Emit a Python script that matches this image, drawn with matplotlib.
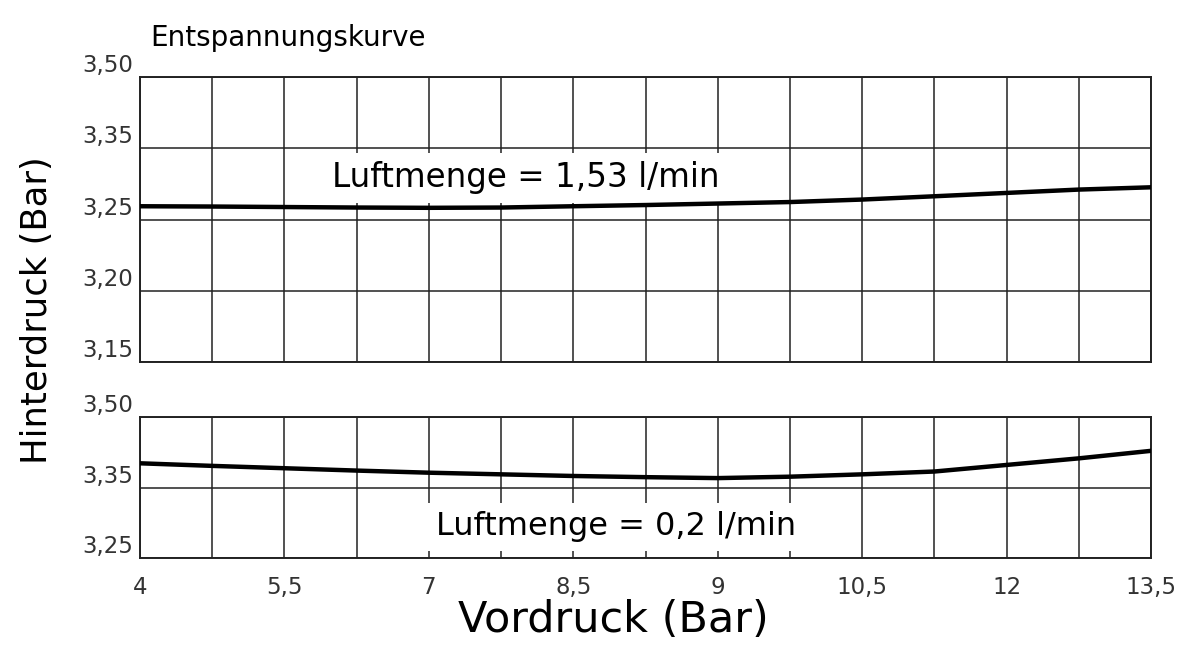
import numpy as np
import matplotlib
matplotlib.use("Agg")
import matplotlib.pyplot as plt

# Vordruck (Bar) an den Rasterlinien
vordruck = [4, 4.75, 5.5, 6.25, 7, 7.75, 8.5, 8.75, 9, 9.75, 10.5, 11.25, 12, 12.75, 13.5]
# Hinterdruck (Bar), Luftmenge 1,53 l/min
hinter_153 = [3.2686, 3.2682, 3.2675, 3.2668, 3.2664, 3.2668, 3.2686, 3.2703,
              3.2724, 3.2745, 3.2780, 3.2826, 3.2873, 3.2920, 3.2952]
# Hinterdruck (Bar), Luftmenge 0,2 l/min
hinter_02 = [3.4015, 3.396, 3.391, 3.386, 3.3815, 3.378, 3.3745, 3.372,
             3.370, 3.373, 3.378, 3.384, 3.398, 3.412, 3.428]

x_ticks = [4, 5.5, 7, 8.5, 9, 10.5, 12, 13.5]
x_labels = ["4", "5,5", "7", "8,5", "9", "10,5", "12", "13,5"]
y_ticks_oben = [3.15, 3.20, 3.25, 3.35, 3.50]
y_labels_oben = ["3,15", "3,20", "3,25", "3,35", "3,50"]
y_ticks_unten = [3.25, 3.35, 3.50]
y_labels_unten = ["3,25", "3,35", "3,50"]


def stueckweise(werte):
    pos = np.arange(len(werte), dtype=float)
    fwd = lambda v: np.interp(v, werte, pos)
    inv = lambda p: np.interp(p, pos, werte)
    return fwd, inv


x_pos = np.arange(0, 2 * len(x_ticks) - 1, 2, dtype=float)
x_fwd = lambda v: np.interp(v, x_ticks, x_pos)
x_inv = lambda p: np.interp(p, x_pos, x_ticks)
x_minor = x_inv(np.arange(1, 14, 2))

fig = plt.figure(figsize=(12.01, 6.45), dpi=100)
ax1 = fig.add_axes([140 / 1201, 1 - 362 / 645, 1011 / 1201, 285 / 645])
ax2 = fig.add_axes([140 / 1201, 1 - 558 / 645, 1011 / 1201, 141 / 645])

for ax, yt, yl, y in [(ax1, y_ticks_oben, y_labels_oben, hinter_153),
                      (ax2, y_ticks_unten, y_labels_unten, hinter_02)]:
    ax.set_xscale("function", functions=(x_fwd, x_inv))
    ax.set_yscale("function", functions=stueckweise(yt))
    ax.set_xlim(4, 13.5)
    ax.set_ylim(yt[0], yt[-1])
    ax.set_xticks(x_ticks)
    ax.set_xticks(x_minor, minor=True)
    ax.set_yticks(yt)
    ax.set_yticklabels(yl)
    ax.yaxis.set_minor_locator(matplotlib.ticker.NullLocator())
    ax.grid(True, which="both", color="#222222", linewidth=1.1)
    ax.tick_params(which="both", length=0)
    ax.tick_params(axis="y", pad=5, labelsize=16.5, labelcolor="#333333")
    for lbl in ax.get_yticklabels():
        lbl.set_va("bottom")
    for s in ax.spines.values():
        s.set_linewidth(1.4)
        s.set_color("#222222")
    ax.plot(vordruck, y, color="black", linewidth=3.2, zorder=4)

ax1.set_xticklabels([])
ax2.set_xticklabels(x_labels)
ax2.tick_params(axis="x", pad=13, labelsize=16.5, labelcolor="#333333")

box = dict(facecolor="white", edgecolor="none", pad=6)
ax1.text(0.382, 0.646, "Luftmenge = 1,53 l/min", transform=ax1.transAxes,
         ha="center", va="center", fontsize=23.5, bbox=box, zorder=3)
ax2.text(0.471, 0.22, "Luftmenge = 0,2 l/min", transform=ax2.transAxes,
         ha="center", va="center", fontsize=23, bbox=box, zorder=3)

fig.text(150 / 1201, 1 - 38 / 645, "Entspannungskurve", ha="left", va="center",
         fontsize=20)
fig.text(37 / 1201, 1 - 310 / 645, "Hinterdruck (Bar)", ha="center", va="center",
         rotation=90, fontsize=25.5)
fig.text(613 / 1201, 1 - 620 / 645, "Vordruck (Bar)", ha="center", va="center",
         fontsize=31)

fig.savefig("out.png", dpi=100)
